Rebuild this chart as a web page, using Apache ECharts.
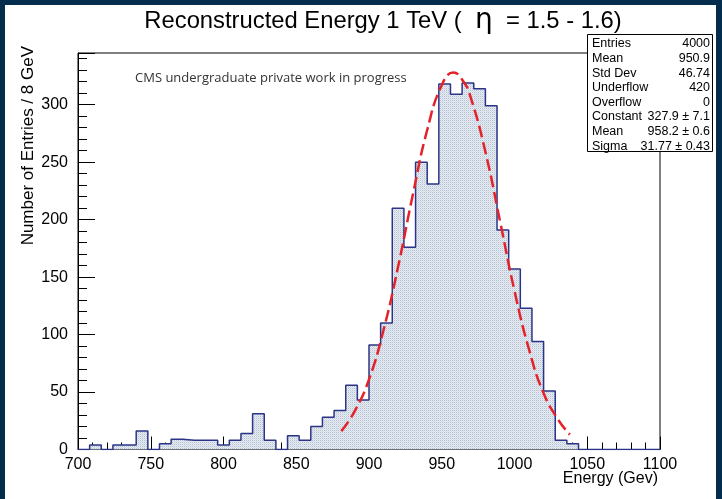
<!DOCTYPE html>
<html>
<head>
<meta charset="utf-8">
<script src="https://cdn.jsdelivr.net/npm/echarts@6/dist/echarts.min.js"></script>
<style>
html, body {
  margin: 0;
  padding: 0;
  background: #042c4c;
}
#panel {
  position: absolute;
  left: 5px;
  top: 5px;
  width: 711px;
  height: 494px;
  background: #fff;
}
#chartHist {
  position: absolute;
  left: 0;
  top: 0;
  width: 722px;
  height: 499px;
}
</style>
</head>
<body>
<div id="panel"></div>
<div id="chartHist"></div>
<script>
// histogram: 8 GeV bins from 700 to 1100 GeV
const BIN_START = 700
const BIN_WIDTH = 8
const binCounts = [
  0, 4, 0, 4, 4, 16, 0, 5, 9, 8,
  8, 8, 4, 8, 14, 31, 8, 0, 12, 8,
  20, 28, 34, 56, 43, 91, 110, 210, 176, 250,
  231, 318, 309, 319, 314, 299, 191, 157, 123, 94,
  51, 8, 5, 0, 0, 0, 0, 0, 0, 0
]

// gaussian fit curve
const fitEnergy = [881, 890, 900, 910, 920, 930, 940, 950, 958, 965, 970, 980, 990, 1000, 1010, 1020, 1030, 1038]
const fitValues = [16, 33, 61, 104, 159, 221, 278, 317, 328, 320, 306, 259, 199, 138, 87, 49, 26, 13]

// stats box
const statsLabels = ['Entries', 'Mean', 'Std Dev', 'Underflow', 'Overflow', 'Constant', 'Mean', 'Sigma']
const statsValues = ['4000', '950.9', '46.74', '420', '0', '327.9 \u00b1 7.1', '958.2 \u00b1 0.6', '31.77 \u00b1 0.43']

const xTicks = [700, 750, 800, 850, 900, 950, 1000, 1050, 1100]
const yTicks = [0, 50, 100, 150, 200, 250, 300]

// step outline points at the bin left edges
const histData = binCounts.map((c, i) => [BIN_START + i * BIN_WIDTH, c])
histData.push([BIN_START + binCounts.length * BIN_WIDTH, 0])

const fitData = fitEnergy.map((e, i) => [e, fitValues[i]])

// small dotted fill, like the ROOT fill style
const dots = document.createElement('canvas')
dots.width = 2
dots.height = 2
const dctx = dots.getContext('2d')
dctx.fillStyle = '#e6ecf2'
dctx.fillRect(0, 0, 2, 2)
dctx.fillStyle = '#b3c1d3'
dctx.fillRect(0, 0, 1, 1)
dctx.fillStyle = '#d3dce7'
dctx.fillRect(1, 1, 1, 1)

const FONT = 'Liberation Sans'

const statsGroup = {
  type: 'group',
  z: 100,
  children: [
    {
      type: 'rect',
      shape: { x: 587.5, y: 34.5, width: 125, height: 117 },
      style: { fill: '#fff', stroke: '#000', lineWidth: 1 }
    }
  ]
}
statsLabels.forEach((lab, i) => {
  const y = 44 + i * 14.6
  statsGroup.children.push({
    type: 'text',
    x: 592,
    y: y,
    style: { text: lab, font: '12.5px "' + FONT + '"', fill: '#000', align: 'left', verticalAlign: 'middle' }
  })
  statsGroup.children.push({
    type: 'text',
    x: 710,
    y: y,
    style: { text: statsValues[i], font: '12.5px "' + FONT + '"', fill: '#000', align: 'right', verticalAlign: 'middle' }
  })
})

const option = {
  animation: false,
  grid: {
    left: 78,
    right: 62,
    top: 53,
    bottom: 49.5,
    show: true,
    borderColor: '#000',
    borderWidth: 1,
    backgroundColor: 'transparent'
  },
  xAxis: {
    type: 'value',
    min: 700,
    max: 1100,
    interval: 50,
    axisLine: { show: true, onZero: false, lineStyle: { color: '#000', width: 1 } },
    axisTick: { show: true, inside: true, length: 13, lineStyle: { color: '#000' } },
    minorTick: { show: true, splitNumber: 5, length: 7, lineStyle: { color: '#000' } },
    splitLine: { show: false },
    axisLabel: {
      margin: 7,
      fontFamily: FONT,
      fontSize: 16,
      color: '#000',
      formatter: v => (xTicks.includes(v) ? String(v) : '')
    }
  },
  yAxis: [
    {
      type: 'value',
      min: 0,
      max: 345,
      interval: 50,
      axisLine: { show: true, lineStyle: { color: '#000', width: 1 } },
      axisTick: { show: true, inside: true, length: 17, lineStyle: { color: '#000' } },
      splitLine: { show: false },
      axisLabel: {
        margin: 10,
        fontFamily: FONT,
        fontSize: 16,
        color: '#000',
        formatter: v => (yTicks.includes(v) ? String(v) : '')
      }
    },
    {
      // minor ticks every 10 entries
      type: 'value',
      position: 'left',
      min: 0,
      max: 345,
      interval: 10,
      axisLine: { show: false },
      axisTick: { show: true, inside: true, length: 9, lineStyle: { color: '#000' } },
      splitLine: { show: false },
      axisLabel: { show: false }
    }
  ],
  graphic: [
    {
      type: 'text',
      x: 383,
      y: 21,
      style: {
        text: '{a|Reconstructed Energy 1 TeV (  }{b|\u03b7}{a|  = 1.5 - 1.6)}',
        align: 'center',
        verticalAlign: 'middle',
        rich: {
          a: { fontFamily: FONT, fontSize: 23.8, fill: '#000' },
          b: { fontFamily: 'DejaVu Sans', fontSize: 28, fill: '#000' }
        }
      }
    },
    {
      type: 'text',
      x: 135,
      y: 78,
      style: {
        text: 'CMS undergraduate private work in progress',
        font: '13px "Open Sans"',
        fill: '#333',
        align: 'left',
        verticalAlign: 'middle'
      }
    },
    {
      type: 'text',
      x: 28,
      y: 46,
      rotation: Math.PI / 2,
      style: {
        text: 'Number of Entries / 8 GeV',
        font: '17px "' + FONT + '"',
        fill: '#000',
        align: 'right',
        verticalAlign: 'middle'
      }
    },
    {
      type: 'text',
      x: 658,
      y: 479,
      style: {
        text: 'Energy (Gev)',
        font: '16px "' + FONT + '"',
        fill: '#000',
        align: 'right',
        verticalAlign: 'middle'
      }
    },
    statsGroup
  ],
  series: [
    {
      name: 'hist',
      type: 'line',
      step: 'end',
      data: histData,
      symbol: 'none',
      lineStyle: { color: '#2b3486', width: 1.5 },
      areaStyle: { color: { image: dots, repeat: 'repeat' }, opacity: 1 },
      z: 2
    },
    {
      name: 'fit',
      type: 'line',
      smooth: true,
      data: fitData,
      symbol: 'none',
      lineStyle: { color: '#e3222a', width: 2.5, type: [12, 5] },
      z: 3
    }
  ]
}

const myChart = echarts.init(document.getElementById('chartHist'), null, { renderer: 'canvas' })
myChart.setOption(option)
window.addEventListener('resize', () => {
  myChart.resize()
})
</script>
</body>
</html>
